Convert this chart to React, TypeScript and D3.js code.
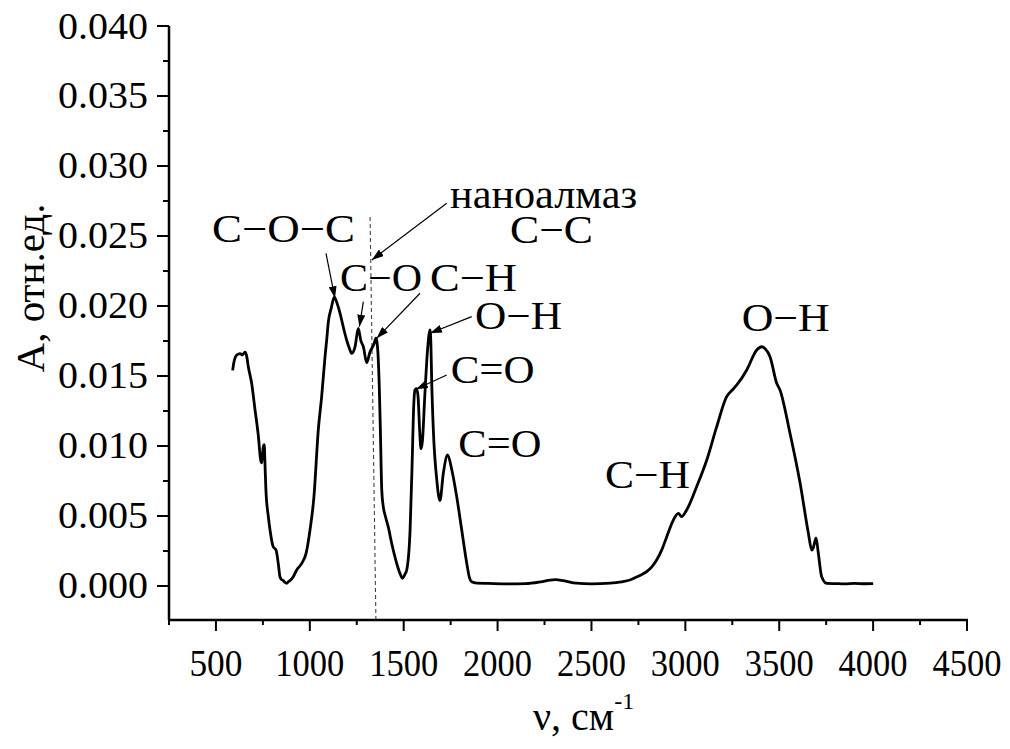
import React from "react";
import * as d3 from "d3";

// Spectrum: wavenumber (cm^-1) and absorbance (×10^-3 rel. units)
const wavenumber = [
  589, 596, 611, 628, 640, 655, 664, 672, 690, 708, 726, 738, 744, 752, 757, 761, 766, 779, 788, 805, 820, 832, 841, 850, 859, 868, 877, 885, 894, 912, 930, 957, 980, 1001, 1022, 1045, 1063, 1081, 1090, 1098, 1115, 1130, 1145, 1161, 1180, 1196, 1210, 1223, 1241, 1258, 1272, 1285, 1303, 1320, 1342, 1352, 1358, 1363, 1370, 1376, 1383, 1392, 1402, 1418, 1436, 1463, 1480, 1493, 1505, 1516, 1534, 1545, 1552, 1560, 1568, 1576, 1585, 1592, 1600, 1612, 1625, 1634, 1640, 1645, 1649, 1658, 1676, 1693, 1711, 1734, 1756, 1782, 1809, 1836, 1850, 1862, 1889, 1950, 2050, 2150, 2230, 2280, 2310, 2350, 2420, 2500, 2600, 2660, 2705, 2750, 2794, 2820, 2847, 2875, 2901, 2936, 2963, 2980, 3007, 3060, 3114, 3167, 3220, 3250, 3274, 3327, 3380, 3407, 3425, 3451, 3486, 3504, 3557, 3611, 3655, 3673, 3681, 3690, 3696, 3708, 3726, 3753, 3800, 3850, 3900, 3950, 4000,
];
const absorbance = [
  15.4, 16.0, 16.5, 16.6, 16.5, 16.7, 16.4, 15.7, 14.5, 12.6, 10.7, 9.0, 8.8, 9.95, 10.1, 8.8, 6.9, 4.95, 4.0, 2.8, 2.57, 1.6, 0.66, 0.45, 0.38, 0.25, 0.19, 0.3, 0.38, 0.66, 1.14, 1.62, 2.33, 4.0, 6.38, 11.14, 13.52, 16.38, 17.6, 18.79, 19.9, 20.64, 20.2, 19.48, 18.4, 17.57, 17.0, 16.62, 17.1, 18.4, 17.5, 17.1, 15.95, 16.7, 17.3, 17.7, 17.4, 16.6, 14.2, 11.0, 6.9, 5.6, 5.0, 4.2, 3.05, 1.6, 0.9, 0.55, 0.8, 1.14, 4.0, 8.8, 12.4, 14.0, 14.1, 13.6, 11.1, 9.8, 10.4, 13.5, 16.5, 17.9, 18.3, 17.2, 14.7, 11.1, 7.6, 6.1, 8.05, 9.36, 8.3, 6.4, 4.0, 1.6, 0.6, 0.3, 0.2, 0.18, 0.15, 0.17, 0.3, 0.42, 0.45, 0.38, 0.2, 0.15, 0.2, 0.3, 0.43, 0.7, 1.02, 1.35, 1.86, 2.6, 3.52, 4.71, 5.19, 4.95, 5.43, 7.09, 9.0, 11.38, 13.52, 14.0, 14.36, 15.43, 16.86, 17.09, 16.95, 16.38, 14.5, 14.0, 10.93, 7.36, 3.79, 2.57, 2.71, 3.2, 3.43, 2.36, 0.66, 0.19, 0.17, 0.15, 0.18, 0.16, 0.17,
];

const xTicksMajor = [500, 1000, 1500, 2000, 2500, 3000, 3500, 4000, 4500];
const xTicksMinor = [250, 750, 1250, 1750, 2250, 2750, 3250, 3750, 4250];
const yTicksMajor = [0, 0.005, 0.01, 0.015, 0.02, 0.025, 0.03, 0.035, 0.04];
const yTicksMinor = [0.0025, 0.0075, 0.0125, 0.0175, 0.0225, 0.0275, 0.0325, 0.0375];
const yTickLabels = ["0.000", "0.005", "0.010", "0.015", "0.020", "0.025", "0.030", "0.035", "0.040"];

// Annotation labels: text, wavenumber, absorbance (baseline-left anchor), target width
const labelTexts = ["C\u2212O\u2212C", "наноалмаз", "C\u2212C", "C\u2212O", "C\u2212H", "O\u2212H", "C=O", "C=O", "C\u2212H", "O\u2212H"];
const labelV = [479, 1747, 2066, 1161, 1640, 1880, 1750, 1791, 2572, 3300];
const labelA = [24.57, 27.02, 24.48, 21.09, 21.09, 18.34, 14.48, 9.24, 6.98, 18.24];
const labelWidths = [143, 187, 83, 82, 87, 87, 84, 83, 85, 88];

// Arrows: from (v, A) to (v, A)
const arrowFromV = [1729, 1086, 1285, 1587, 1862, 1729];
const arrowFromA = [27.34, 23.76, 20.31, 20.91, 19.24, 15.07];
const arrowToV = [1330, 1134, 1264, 1356, 1640, 1565];
const arrowToA = [23.29, 20.55, 18.52, 17.69, 18.05, 14.05];

// Nanodiamond marker line
const markerV = [1321, 1352];
const markerA = [26.36, -2.43];

const FONT = "'Liberation Serif', 'Times New Roman', serif";

export default function App() {
  const x = d3.scaleLinear().domain([250, 4500]).range([169, 967]);
  const y = d3.scaleLinear().domain([-0.00243, 0.04]).range([620, 26]);
  const pts: [number, number][] = wavenumber.map((v, i) => [v, absorbance[i] / 1000]);
  const line = d3
    .line<[number, number]>()
    .x((d) => x(d[0]))
    .y((d) => y(d[1]))
    .curve(d3.curveMonotoneX);

  return (
    <svg
      width={1010}
      height={749}
      style={{ position: "absolute", left: 0, top: 0, background: "#fff" }}
      fontFamily={FONT}
    >
      <defs>
        <marker
          id="ah"
          viewBox="0 0 12 8"
          refX={12}
          refY={4}
          markerWidth={12}
          markerHeight={8}
          markerUnits="userSpaceOnUse"
          orient="auto"
        >
          <path d="M0,0 L12,4 L0,8 Z" fill="#000" />
        </marker>
      </defs>
      <rect x={0} y={0} width={1010} height={749} fill="#fff" />

      {/* dashed nanodiamond line */}
      <line
        x1={x(markerV[0])}
        y1={y(markerA[0] / 1000)}
        x2={x(markerV[1])}
        y2={y(markerA[1] / 1000)}
        stroke="#444"
        strokeWidth={1.1}
        strokeDasharray="4,3"
      />

      {/* spectrum */}
      <path d={line(pts) || ""} fill="none" stroke="#000" strokeWidth={2.8} strokeLinejoin="round" />

      {/* axes */}
      <line x1={169} y1={y(0.04)} x2={169} y2={620} stroke="#000" strokeWidth={2.5} />
      <line x1={168} y1={620} x2={x(4500) + 1} y2={620} stroke="#000" strokeWidth={2.5} />
      {yTicksMajor.map((t, i) => (
        <g key={"ym" + i}>
          <line x1={157} x2={169} y1={y(t)} y2={y(t)} stroke="#000" strokeWidth={2} />
          <text x={148} y={y(t) + 12.5} fontSize={37} textAnchor="end" textLength={90} lengthAdjust="spacingAndGlyphs">
            {yTickLabels[i]}
          </text>
        </g>
      ))}
      {yTicksMinor.map((t, i) => (
        <line key={"yn" + i} x1={163} x2={169} y1={y(t)} y2={y(t)} stroke="#000" strokeWidth={2} />
      ))}
      {xTicksMajor.map((t, i) => (
        <g key={"xm" + i}>
          <line x1={x(t)} x2={x(t)} y1={620} y2={631} stroke="#000" strokeWidth={2} />
          <text
            x={x(t)}
            y={676}
            fontSize={37}
            textAnchor="middle"
            textLength={t < 1000 ? 53 : 69}
            lengthAdjust="spacingAndGlyphs"
          >
            {String(t)}
          </text>
        </g>
      ))}
      {xTicksMinor.map((t, i) => (
        <line key={"xn" + i} x1={x(t)} x2={x(t)} y1={620} y2={625} stroke="#000" strokeWidth={2} />
      ))}

      {/* axis titles */}
      <text transform="translate(44,288) rotate(-90)" fontSize={41} textAnchor="middle">
        A, отн.ед.
      </text>
      <text x={533} y={730} fontSize={40}>
        ν, см
        <tspan fontSize={24} dy={-21}>-1</tspan>
      </text>

      {/* annotation labels */}
      {labelTexts.map((s, i) => (
        <text
          key={"lb" + i}
          x={x(labelV[i])}
          y={y(labelA[i] / 1000)}
          fontSize={40}
          textLength={labelWidths[i]}
          lengthAdjust="spacingAndGlyphs"
        >
          {s}
        </text>
      ))}

      {/* arrows */}
      {arrowFromV.map((v, i) => (
        <line
          key={"ar" + i}
          x1={x(v)}
          y1={y(arrowFromA[i] / 1000)}
          x2={x(arrowToV[i])}
          y2={y(arrowToA[i] / 1000)}
          stroke="#000"
          strokeWidth={1.2}
          markerEnd="url(#ah)"
        />
      ))}
    </svg>
  );
}
